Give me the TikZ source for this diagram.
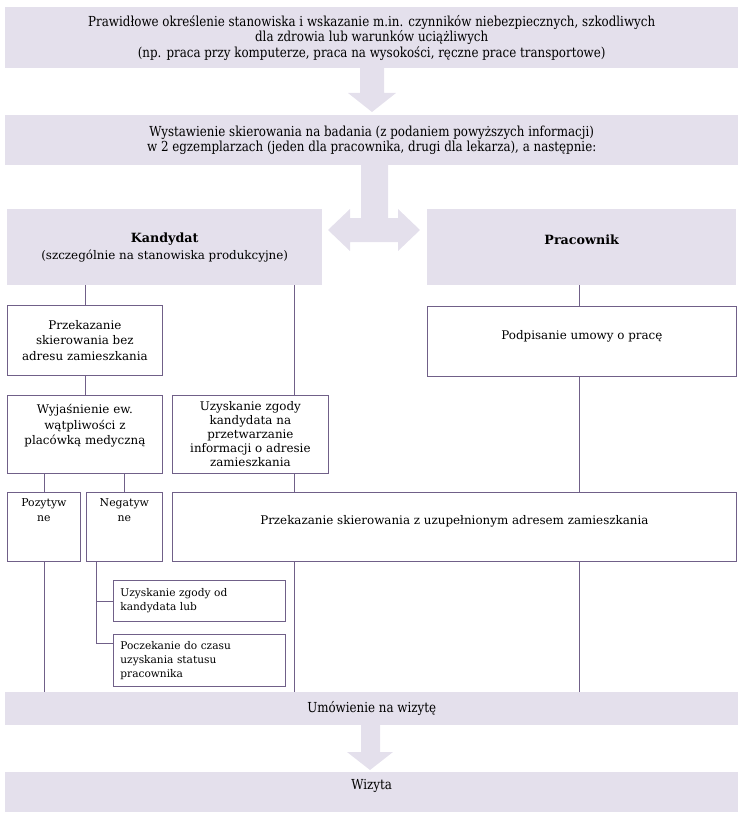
\documentclass[tikz,border=0pt]{standalone}
\usepackage{fontspec}
\setmainfont{DejaVu Serif}
\newfontfamily\bandfont[FakeStretch=0.86]{DejaVu Serif}
\usepackage{xcolor}
\usepackage{tikz}
\usetikzlibrary{positioning}
\definecolor{lila}{RGB}{228,224,236}
\definecolor{fiolet}{RGB}{112,96,136}
\tikzset{
  band/.style={fill=lila,draw=none,anchor=north west,minimum width=733pt,inner sep=0pt,align=center,font=\bandfont\fontsize{13.8}{15.5}\selectfont},
  pole/.style={draw=fiolet,line width=0.8pt,fill=white,anchor=north west,inner sep=2pt,align=center,font=\fontsize{11.9}{15.5}\selectfont},
  glowa/.style={fill=lila,draw=none,anchor=north west,inner sep=0pt,align=center,font=\fontsize{11.9}{17}\selectfont},
  link/.style={draw=fiolet,line width=0.8pt}
}

\begin{document}
\begin{tikzpicture}[x=1pt,y=-1pt]
\useasboundingbox (0,0) rectangle (744,821);

\node(top)[band,minimum height=61pt] at (5,7) {Prawidłowe określenie stanowiska i wskazanie m.in. czynników niebezpiecznych, szkodliwych\\dla zdrowia lub warunków uciążliwych\\(np. praca przy komputerze, praca na wysokości, ręczne prace transportowe)};
\node(skier)[band,minimum height=50pt] at (5,115) {Wystawienie skierowania na badania (z podaniem powyższych informacji)\\w 2 egzemplarzach (jeden dla pracownika, drugi dla lekarza), a następnie:};

\node(kand)[glowa,minimum width=315pt,minimum height=76pt] at (7,209) {{\fontsize{12.7}{17}\selectfont\bfseries Kandydat}\\(szczególnie na stanowiska produkcyjne)};
\node(prac)[glowa,minimum width=309pt,minimum height=76pt,text depth=15pt] at (427,209) {{\fontsize{12.7}{17}\selectfont\bfseries Pracownik}};

\node(bez)[pole,minimum width=155pt,minimum height=70pt] at (7,305) {Przekazanie\\skierowania bez\\adresu zamieszkania};
\node(podp)[pole,minimum width=309pt,minimum height=70pt,text depth=13pt] at (427,306) {Podpisanie umowy o pracę};

\node(wyj)[pole,minimum width=155pt,minimum height=78pt,text depth=20pt] at (7,395) {Wyjaśnienie ew.\\wątpliwości z\\placówką medyczną};
\node(zgoda)[pole,minimum width=156pt,minimum height=78pt,font=\fontsize{11.9}{14}\selectfont] at (172,395) {Uzyskanie zgody\\kandydata na\\przetwarzanie\\informacji o adresie\\zamieszkania};

\node(poz)[pole,minimum width=73pt,minimum height=69pt,text depth=33pt,font=\fontsize{10.9}{15}\selectfont] at (7,492) {Pozytyw\\ne};
\node(neg)[pole,minimum width=76pt,minimum height=69pt,text depth=33pt,font=\fontsize{10.9}{15}\selectfont] at (86,492) {Negatyw\\ne};
\node(uzup)[pole,minimum width=564pt,minimum height=69pt,text depth=13pt] at (172,492) {Przekazanie skierowania z uzupełnionym adresem zamieszkania};

\node(zgodaod)[pole,minimum width=172pt,minimum height=41pt,text width=158pt,align=left,font=\fontsize{10.6}{14}\selectfont] at (113,580) {Uzyskanie zgody od\\kandydata lub};
\node(pocz)[pole,minimum width=172pt,minimum height=52pt,text width=158pt,align=left,font=\fontsize{10.6}{14}\selectfont] at (113,634) {Poczekanie do czasu\\uzyskania statusu\\pracownika};

\node(umow)[band,minimum height=33pt] at (5,692) {Umówienie na wizytę};
\node(wizyta)[band,minimum height=40pt,text depth=15pt] at (5,772) {Wizyta};

\fill[lila] (360,68) -- (384,68) -- (384,93) -- (396,93) -- (372,112) -- (348,93) -- (360,93) -- cycle;
\fill[lila] (361,165) -- (388,165) -- (388,218) -- (398,218) -- (398,209) -- (420,230) -- (398,251) -- (398,242)
  -- (350,242) -- (350,251) -- (328,230) -- (350,209) -- (350,218) -- (361,218) -- cycle;
\fill[lila] (361,725) -- (380,725) -- (380,752) -- (393,752) -- (370,770) -- (347,752) -- (361,752) -- cycle;

\coordinate(mid) at (294,0);
\coordinate(right) at (579,0);
\coordinate(fork) at (96,0);
\coordinate[yshift=-9pt](pk) at (pocz.north west);

\draw[link] (kand.south -| bez.north) -- (bez.north)
            (bez.south) -- (wyj.north)
            (wyj.south -| poz.north) -- (poz.north)
            (wyj.south -| neg.north) -- (neg.north)
            (poz.south) -- (poz.south |- umow.north);
\draw[link] (kand.south -| mid) -- (zgoda.north -| mid)
            (zgoda.south -| mid) -- (uzup.north -| mid)
            (uzup.south -| mid) -- (umow.north -| mid);
\draw[link] (prac.south -| right) -- (podp.north -| right)
            (podp.south -| right) -- (uzup.north -| right)
            (uzup.south -| right) -- (umow.north -| right);
\draw[link] (neg.south -| fork) -- (fork |- pk) -- (pk)
            (fork |- zgodaod.west) -- (zgodaod.west);
\end{tikzpicture}
\end{document}
